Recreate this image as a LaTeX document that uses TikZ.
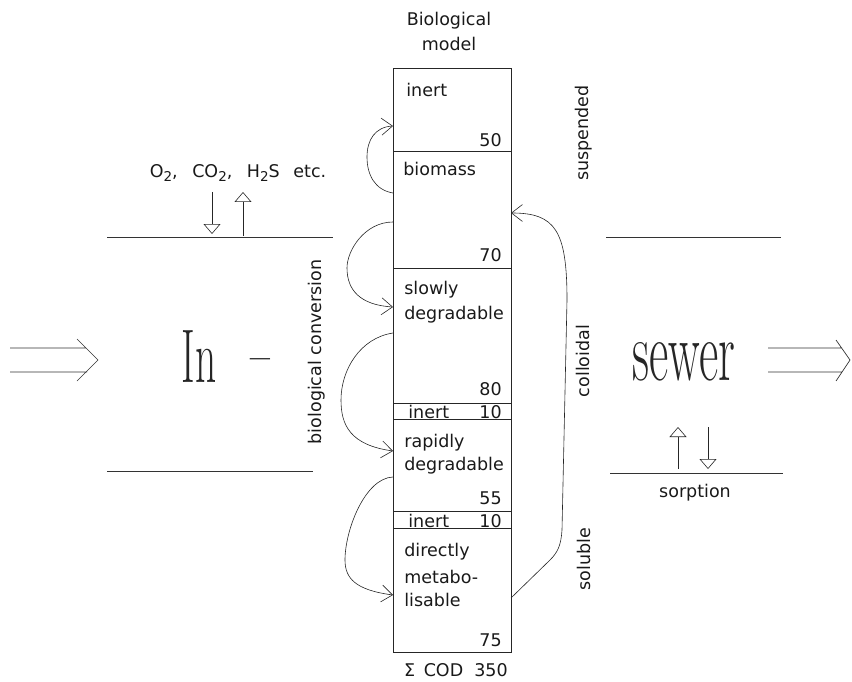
\documentclass[tikz,border=0pt]{standalone}
\usepackage{fontspec}
\newfontfamily\lab{DejaVu Sans}
\usetikzlibrary{arrows.meta}
\newcommand{\sbs}[1]{\raisebox{-0.4ex}{\fontsize{13.5}{13.5}\selectfont #1}}
\begin{document}
\begin{tikzpicture}[x=1pt,y=-1pt, line width=0.7pt, draw=black!85,
 lbl/.style={font=\lab\fontsize{17.5}{20}\selectfont, inner sep=0pt, text=black!90},
 num/.style={lbl, anchor=east},
 lft/.style={lbl, anchor=west},
 sec/.style={draw=black!85, anchor=north west, minimum width=118pt, inner sep=0pt, outer sep=0pt},
 conv/.style={-{Straight Barb[length=11pt,width=17pt]}, line width=0.6pt, draw=black!85},
 flux/.style={-{Triangle[open,length=10pt,width=17pt]}, line width=0.6pt, draw=black!85},
 big/.style={inner sep=0pt, anchor=base, text=black!85},
 rule/.style={line width=0.7pt, draw=black!80}]
\useasboundingbox (0,0) rectangle (852,682);

% column sections
\node[sec, minimum height=83pt]  (sInert) at (393,68) {};
\node[sec, minimum height=117pt] (sBio)   at (393,151) {};
\node[sec, minimum height=135pt] (sSlow)  at (393,268) {};
\node[sec, minimum height=16pt]  (sIn2)   at (393,403) {};
\node[sec, minimum height=92pt]  (sRap)   at (393,419) {};
\node[sec, minimum height=17pt]  (sIn3)   at (393,511) {};
\node[sec, minimum height=124pt] (sDir)   at (393,528) {};

% texts in column
\node[lbl] (tBio) at (449,21) {Biological};
\node[lbl] (tModel) at (449,44) {model};
\node[lft] (tInert1) at (406,90) {inert};
\node[num] (n50) at (502,140) {50};
\node[lft] (tBiomass) at (403,169) {biomass};
\node[num] (n70) at (502,255) {70};
\node[lft] (tSlow1) at (404,290) {slowly};
\node[lft] (tSlow2) at (404,315) {degradable};
\node[num] (n80) at (502,389) {80};
\node[lft] (tInert2) at (408,412) {inert};
\node[num] (n10a) at (502,412) {10};
\node[lft] (tRap1) at (404,443) {rapidly};
\node[lft] (tRap2) at (404,466) {degradable};
\node[num] (n55) at (502,498) {55};
\node[lft] (tInert3) at (408,521) {inert};
\node[num] (n10b) at (502,521) {10};
\node[lft] (tDir1) at (404,552) {directly};
\node[lft] (tDir2) at (404,577) {metabo-};
\node[lft] (tDir3) at (404,600) {lisable};
\node[num] (n75) at (502,640) {75};
\node[lbl] (tSum) at (456,670) {Σ\,\ COD\ \ 350};

% side labels
\node[lbl, rotate=90] (tSusp) at (584,133) {suspended};
\node[lbl, rotate=90] (tColl) at (583,361) {colloidal};
\node[lbl, rotate=90] (tSol) at (584,559) {soluble};
\node[lbl, rotate=90] (tConv) at (317,352) {biological\ conversion};

% gas exchange
\node[lbl] (tGas) at (238,173) {O\sbs{2},\hspace{9pt} CO\sbs{2},\hspace{9pt} H\sbs{2}S\hspace{8pt} etc.};
\coordinate (gd1) at (212,192); \coordinate (gd2) at (212,234);
\coordinate (gu1) at (243,236); \coordinate (gu2) at (243,192);
\draw[flux] (gd1) -- (gd2);
\draw[flux] (gu1) -- (gu2);

% sorption
\node[lbl] (tSorp) at (695,493) {sorption};
\coordinate (su1) at (678,469); \coordinate (su2) at (678,427);
\coordinate (sd1) at (708,427); \coordinate (sd2) at (708,469);
\draw[flux] (su1) -- (su2);
\draw[flux] (sd1) -- (sd2);

% sewer walls
\coordinate (wa1) at (107,237); \coordinate (wa2) at (333,237);
\coordinate (wb1) at (606,237); \coordinate (wb2) at (781,237);
\coordinate (wc1) at (107,471); \coordinate (wc2) at (313,471);
\coordinate (wd1) at (610,473); \coordinate (wd2) at (783,473);
\draw[rule] (wa1) -- (wa2);
\draw[rule] (wb1) -- (wb2);
\draw[rule] (wc1) -- (wc2);
\draw[rule] (wd1) -- (wd2);

% big words
\node[big, xscale=0.545, font=\fontsize{76}{76}\selectfont] (tIn) at (199,382) {In};
\node[big, xscale=0.54, font=\fontsize{80}{80}\selectfont] (tDash) at (260,380) {–};
\node[big, xscale=0.55, font=\fontsize{86}{86}\selectfont] (tSewer) at (684,380) {sewer};

% big double arrows
\coordinate (la1) at (10,348); \coordinate (la2) at (86,348);
\coordinate (la3) at (10,372); \coordinate (la4) at (87,372);
\coordinate (lc1) at (77,339); \coordinate (lc2) at (98,360); \coordinate (lc3) at (77,381);
\draw[rule] (la1) -- (la2) (la3) -- (la4) (lc1) -- (lc2) -- (lc3);
\coordinate (ra1) at (768,348); \coordinate (ra2) at (842,348);
\coordinate (ra3) at (768,372); \coordinate (ra4) at (842,372);
\coordinate (rc1) at (836,340); \coordinate (rc2) at (850,360); \coordinate (rc3) at (836,381);
\draw[rule] (ra1) -- (ra2) (ra3) -- (ra4) (rc1) -- (rc2) -- (rc3);

% conversion arrows
\draw[conv] (sBio.west |- 0,193) .. controls (375,190) and (367,175) .. (367,157)
  .. controls (367,140) and (375,127) .. (sInert.west |- 0,126);
\draw[conv] (sBio.west |- 0,222) .. controls (365,222) and (347,250) .. (347,268)
  .. controls (347,290) and (360,305) .. (sSlow.west |- 0,307);
\draw[conv] (sSlow.west |- 0,333) .. controls (360,338) and (341,370) .. (341,400)
  .. controls (341,425) and (350,445) .. (sRap.west |- 0,451);
\draw[conv] (sRap.west |- 0,477) .. controls (365,478) and (345,530) .. (345,560)
  .. controls (345,578) and (355,590) .. (sDir.west |- 0,595);
\draw[conv] (sDir.east |- 0,598) -- (550,560) .. controls (558,552) and (561,545) .. (562,530)
  -- (567,300) .. controls (567,230) and (555,213) .. (sBio.east |- 0,213);
\end{tikzpicture}
\end{document}
